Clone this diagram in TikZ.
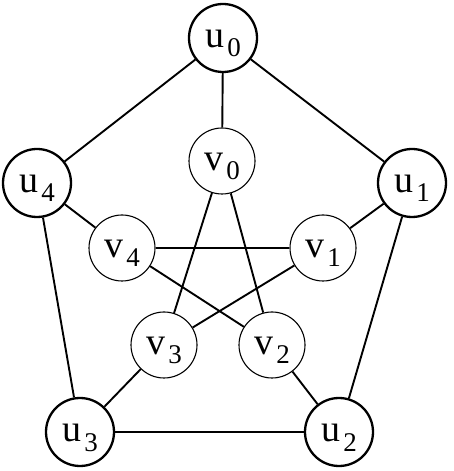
\documentclass[tikz,border=0pt]{standalone}
\usepackage{fontspec}
\setmainfont{Liberation Serif}
\newcommand{\vlbl}[2]{#1\kern3pt\raisebox{-9pt}{\fontsize{27}{27}\selectfont #2}}
\begin{document}
\begin{tikzpicture}[x=1pt, y=1pt,
  every node/.style={font=\fontsize{38}{42}\selectfont},
  outer/.style={draw, circle, minimum size=68pt, inner sep=0pt, line width=2.3pt, text height=30pt, text depth=10pt},
  inner/.style={draw, circle, minimum size=66pt, inner sep=0pt, line width=1.1pt, text height=30pt, text depth=10pt},
  edge/.style={line width=1.9pt}]
\useasboundingbox (0,0) rectangle (453,471);
\node[outer] (u0) at (223,433) {\vlbl{u}{0}};
\node[outer] (u1) at (412,288) {\vlbl{u}{1}};
\node[outer] (u2) at (339,39) {\vlbl{u}{2}};
\node[outer] (u3) at (80,39) {\vlbl{u}{3}};
\node[outer] (u4) at (37,288) {\vlbl{u}{4}};
\node[inner] (v0) at (222,310) {\vlbl{v}{0}};
\node[inner] (v1) at (323,223) {\vlbl{v}{1}};
\node[inner] (v2) at (272,126) {\vlbl{v}{2}};
\node[inner] (v3) at (164,126) {\vlbl{v}{3}};
\node[inner] (v4) at (122,223) {\vlbl{v}{4}};
% outer cycle
\draw[edge] (u0) -- (u1);
\draw[edge] (u1) -- (u2);
\draw[edge] (u2) -- (u3);
\draw[edge] (u3) -- (u4);
\draw[edge] (u4) -- (u0);
% spokes
\draw[edge] (u0) -- (v0);
\draw[edge] (u1) -- (v1);
\draw[edge] (u2) -- (v2);
\draw[edge] (u3) -- (v3);
\draw[edge] (u4) -- (v4);
% inner star
\draw[edge] (v0) -- (v2);
\draw[edge] (v0) -- (v3);
\draw[edge] (v1) -- (v3);
\draw[edge] (v1) -- (v4);
\draw[edge] (v2) -- (v4);
\end{tikzpicture}
\end{document}
